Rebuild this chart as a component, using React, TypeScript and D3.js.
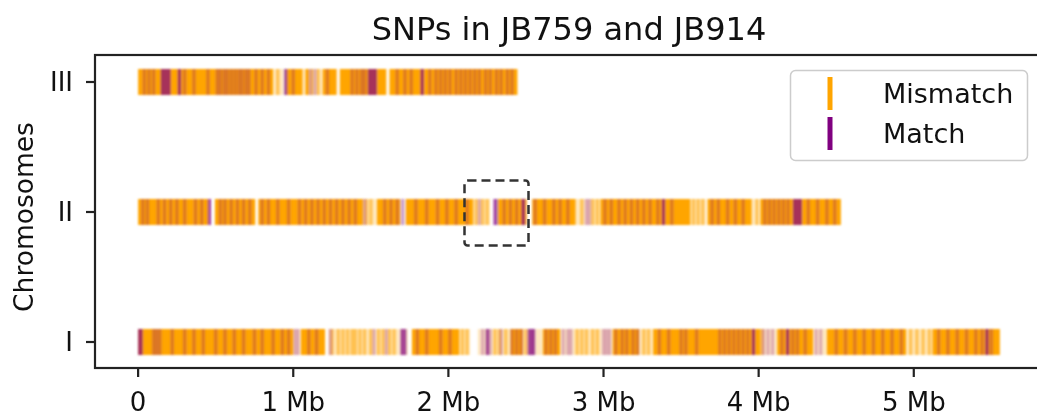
import React from "react";
import * as d3 from "d3";

// chromosome names, bottom to top
const chromNames = ["I", "II", "III"];
const xTicks = [0, 1, 2, 3, 4, 5];
const xTickLabels = ["0", "1 Mb", "2 Mb", "3 Mb", "4 Mb", "5 Mb"];
const legendLabels = ["Mismatch", "Match"];

// positions in Mb
// chromosome I
const chrIDense = [[0, 1.0], [1.05, 1.205], [1.765, 2.07], [2.4, 2.48], [2.61, 2.72], [3.06, 3.23], [3.32, 4.01], [4.12, 4.35], [4.44, 4.95], [5.12, 5.555]];
const chrIPale = [[1.0, 1.05], [1.225, 1.74], [2.07, 2.14], [2.19, 2.4], [2.48, 2.61], [2.72, 3.06], [3.23, 3.32], [4.01, 4.12], [4.35, 4.44], [4.95, 5.12]];
const chrIMismatch = [1.25, 1.29, 1.32, 1.35, 1.38, 1.4, 1.43, 1.46, 1.5, 1.55, 1.58, 1.62, 1.65, 2.09, 2.12, 2.3, 2.33, 2.37, 2.5, 2.83, 2.86, 2.89, 2.93, 2.96, 3.26, 3.29, 4.02, 4.98, 5.02, 5.06, 5.1];
const chrIMatch = [0.1, 0.12, 0.14, 0.22, 0.3, 0.36, 0.42, 0.5, 0.56, 0.62, 0.68, 0.75, 0.8, 0.87, 0.93, 0.97, 1.01, 1.03, 1.1, 1.15, 1.24, 1.52, 1.6, 1.8, 1.86, 1.95, 2.01, 2.22, 2.27, 2.34, 2.41, 2.44, 2.47, 2.54, 2.63, 2.66, 2.69, 2.74, 2.77, 2.79, 3.0, 3.02, 3.04, 3.08, 3.12, 3.15, 3.19, 3.22, 3.36, 3.42, 3.5, 3.53, 3.6, 3.75, 3.78, 3.81, 3.84, 3.87, 3.9, 3.93, 4.03, 4.06, 4.09, 4.15, 4.22, 4.25, 4.3, 4.37, 4.4, 4.5, 4.56, 4.62, 4.68, 4.74, 4.8, 4.86, 4.92, 5.16, 5.22, 5.28, 5.34, 5.4, 5.44, 5.5];
const chrIMatchBands = [[0, 0.03], [1.69, 1.73], [2.24, 2.26], [2.51, 2.56], [3.955, 3.97], [4.175, 4.19], [5.46, 5.48]];

// chromosome II
const chrIIDense = [[0, 0.455], [0.495, 0.755], [0.775, 1.45], [1.54, 1.69], [1.725, 2.16], [2.32, 2.505], [2.54, 2.82], [2.98, 3.56], [3.67, 3.955], [4.01, 4.53]];
const chrIIPale = [[1.45, 1.54], [2.16, 2.27], [2.82, 2.98], [3.56, 3.66], [3.955, 4.0]];
const chrIIMismatch = [1.47, 1.5, 2.18, 2.22, 2.25, 2.86, 2.93, 2.96, 3.58, 3.61, 3.64, 3.99];
const chrIIMatch = [0.03, 0.06, 0.13, 0.17, 0.21, 0.25, 0.3, 0.37, 0.41, 0.53, 0.56, 0.6, 0.64, 0.68, 0.72, 0.8, 0.84, 0.9, 0.97, 1.04, 1.08, 1.12, 1.16, 1.2, 1.24, 1.28, 1.32, 1.36, 1.4, 1.46, 1.59, 1.63, 1.67, 1.7, 1.71, 1.79, 1.86, 1.93, 1.99, 2.05, 2.12, 2.2, 2.36, 2.4, 2.44, 2.56, 2.62, 2.68, 2.72, 2.77, 2.89, 2.91, 3.01, 3.05, 3.1, 3.14, 3.18, 3.22, 3.26, 3.3, 3.35, 3.44, 3.7, 3.74, 3.8, 3.85, 3.9, 4.04, 4.07, 4.1, 4.13, 4.16, 4.19, 4.32, 4.38, 4.44, 4.49];
const chrIIMatchBands = [[0.448, 0.458], [2.29, 2.32], [2.47, 2.495], [3.375, 3.385], [4.22, 4.28]];

// chromosome III
const chrIIIDense = [[0, 0.87], [0.955, 1.06], [1.08, 1.1], [1.19, 1.28], [1.3, 1.6], [1.62, 2.445]];
const chrIIIPale = [[0.87, 0.94], [1.06, 1.19]];
const chrIIIMismatch = [0.9, 1.09, 1.12, 1.16];
const chrIIIMatch = [0.04, 0.07, 0.1, 0.3, 0.36, 0.45, 0.51, 0.53, 0.555, 0.575, 0.6, 0.625, 0.65, 0.67, 0.695, 0.715, 0.76, 0.8, 0.84, 1.0, 1.11, 1.14, 1.22, 1.38, 1.41, 1.44, 1.46, 1.67, 1.72, 1.76, 1.88, 1.92, 1.95, 1.98, 2.01, 2.05, 2.08, 2.11, 2.14, 2.17, 2.2, 2.24, 2.27, 2.31, 2.34, 2.38, 2.41];
const chrIIIMatchBands = [[0.145, 0.21], [0.255, 0.265], [0.94, 0.95], [1.48, 1.54], [1.82, 1.835]];

// zoomed region on chromosome II (x in Mb, y in chromosome units)
const boxX = [2.1, 2.51];
const boxY = [0.75, 1.25];

const chromosomes = [
  { dense: chrIDense, pale: chrIPale, mismatch: chrIMismatch, match: chrIMatch, bands: chrIMatchBands },
  { dense: chrIIDense, pale: chrIIPale, mismatch: chrIIMismatch, match: chrIIMatch, bands: chrIIMatchBands },
  { dense: chrIIIDense, pale: chrIIIPale, mismatch: chrIIIMismatch, match: chrIIIMatch, bands: chrIIIMatchBands },
];

const ORANGE = "#FFA500";
const PURPLE = "#800080";
const FONT = "DejaVu Sans, sans-serif";

export default function App() {
  const width = 1037;
  const height = 417;
  const left = 95, right = 1043, top = 55, bottom = 368;

  const x = d3.scaleLinear().domain([-0.278, 5.833]).range([left, right]);
  const y = d3.scaleLinear().domain([-0.2, 2.2]).range([bottom, top + 1]);
  const barH = y(0) - y(0.2);
  const lineW = 3.5;

  return (
    <svg width={width} height={height} style={{ position: "absolute", left: 0, top: 0 }} fontFamily={FONT}>
      <defs>
        <filter id="soft" x="-2%" y="-20%" width="104%" height="140%">
          <feGaussianBlur stdDeviation="0.9" />
        </filter>
      </defs>
      <rect width={width} height={height} fill="white" />
      <g filter="url(#soft)">
        {chromosomes.map((c, i) => {
          const y0 = y(i) - barH / 2;
          return (
            <g key={i}>
              {c.pale.map(([s, e], j) => (
                <rect key={"p" + j} x={x(s)} y={y0} width={x(e) - x(s)} height={barH} fill={ORANGE} opacity={0.25} />
              ))}
              {c.dense.map(([s, e], j) => (
                <rect key={"d" + j} x={x(s)} y={y0} width={x(e) - x(s)} height={barH} fill={ORANGE} />
              ))}
              {c.mismatch.map((p, j) => (
                <rect key={"m" + j} x={x(p) - lineW / 2} y={y0} width={lineW} height={barH} fill={ORANGE} opacity={0.55} />
              ))}
              {c.match.map((p, j) => (
                <rect key={"t" + j} x={x(p) - lineW / 2} y={y0} width={lineW} height={barH} fill={PURPLE} opacity={0.26} />
              ))}
              {c.bands.map(([s, e], j) => (
                <rect key={"b" + j} x={x(s)} y={y0} width={Math.max(x(e) - x(s), lineW)} height={barH} fill={PURPLE} opacity={0.7} />
              ))}
            </g>
          );
        })}
      </g>

      {/* dashed zoom box */}
      <rect
        x={Math.round(x(boxX[0])) + 0.5}
        y={Math.round(y(boxY[1])) + 0.5}
        width={Math.round(x(boxX[1]) - x(boxX[0]))}
        height={Math.round(y(boxY[0]) - y(boxY[1]))}
        rx={3}
        fill="none"
        stroke="#333"
        strokeWidth={2.5}
        strokeDasharray="9,5"
      />

      {/* spines */}
      <rect x={left} y={top} width={right + 10 - left} height={bottom - top} fill="none" stroke="#222" strokeWidth={2.2} />

      {/* x ticks */}
      {xTicks.map((t, i) => (
        <g key={t} transform={`translate(${x(t)},${bottom})`}>
          <line y1={0} y2={9} stroke="#222" strokeWidth={2.2} />
          <text y={43} textAnchor="middle" fontSize={26} fill="#111">{xTickLabels[i]}</text>
        </g>
      ))}

      {/* y ticks */}
      {chromNames.map((n, i) => (
        <g key={n} transform={`translate(${left},${y(i)})`}>
          <line x1={-9} x2={0} stroke="#222" strokeWidth={2.2} />
          <text x={-22} dy="0.36em" textAnchor="end" fontSize={26} fill="#111">{n}</text>
        </g>
      ))}

      <text transform="translate(33,217) rotate(-90)" textAnchor="middle" fontSize={26.5} fill="#111">Chromosomes</text>

      <text x={(left + right) / 2} y={40} textAnchor="middle" fontSize={32} fill="#111">SNPs in JB759 and JB914</text>

      {/* legend */}
      <g>
        <rect x={790.5} y={70.5} width={237} height={90} rx={5} fill="white" fillOpacity={0.8} stroke="#ccc" strokeWidth={1.5} />
        {legendLabels.map((l, i) => (
          <g key={l} transform={`translate(0,${i * 40})`}>
            <line x1={830} x2={830} y1={77} y2={110} stroke={i === 0 ? ORANGE : PURPLE} strokeWidth={5} />
            <text x={883} y={103} fontSize={27} fill="#111">{l}</text>
          </g>
        ))}
      </g>
    </svg>
  );
}
